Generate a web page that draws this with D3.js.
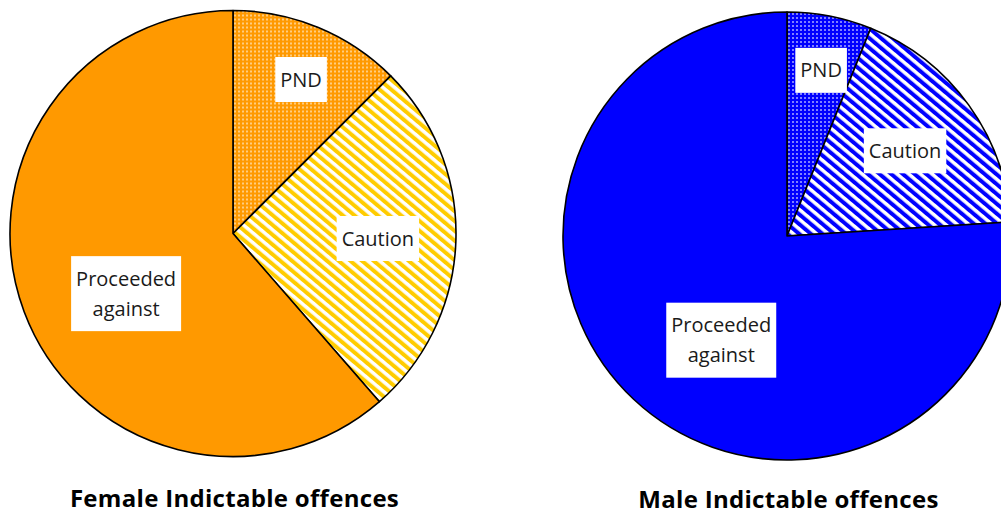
<!DOCTYPE html>
<html>
<head>
<meta charset="utf-8">
<script src="https://cdn.jsdelivr.net/npm/d3@7"></script>
<style>
  body { margin: 0; background: #fff; }
  svg { display: block; }
  .lbl { font-family: "Open Sans", sans-serif; font-size: 20px; fill: #1a1a1a; }
  .title { font-family: "Open Sans", sans-serif; font-size: 24px; font-weight: bold; letter-spacing: 0.3px; fill: #000; }
</style>
</head>
<body>
<svg id="chart" width="1001" height="515"></svg>
<script>
// data
const categories = ["PND", "Caution", "Proceeded against"];
const femaleValues = [12.5, 26.1, 61.4];
const maleValues = [6.1, 17.9, 76.0];
const titles = ["Female Indictable offences", "Male Indictable offences"];

const width = 1001;
const height = 515;
const svg = d3.select("#chart");

const charts = [
  { key: "f", values: femaleValues, title: titles[0], cx: 233, cy: 233.5, r: 223, solid: "#FF9900", stripe: "#FFCC00", titleY: 507 },
  { key: "m", values: maleValues, title: titles[1], cx: 787, cy: 236, r: 224, solid: "#0000FF", stripe: "#0000FF", titleY: 508 }
];

// where each label sits inside its slice: fraction of the angle, fraction of radius
const labelSpot = {
  "PND": [0.53, 0.755],
  "Caution": [0.5, 0.65],
  "Proceeded against": [0.46, 0.55]
};

const defs = svg.append("defs");

charts.forEach(c => {
  // dotted pattern for PND
  const dots = defs.append("pattern")
    .attr("id", "dots-" + c.key)
    .attr("patternUnits", "userSpaceOnUse")
    .attr("width", 4)
    .attr("height", 4);
  dots.append("rect").attr("width", 4).attr("height", 4).attr("fill", c.solid);
  dots.append("rect").attr("x", 1).attr("y", 1).attr("width", 2).attr("height", 2)
    .attr("fill", "#fff").attr("opacity", 0.5);

  // diagonal stripes for Caution
  const stripes = defs.append("pattern")
    .attr("id", "stripes-" + c.key)
    .attr("patternUnits", "userSpaceOnUse")
    .attr("width", 7.5)
    .attr("height", 7.5)
    .attr("patternTransform", "rotate(-50)");
  stripes.append("rect").attr("width", 7.5).attr("height", 7.5).attr("fill", "#fff");
  stripes.append("rect").attr("width", 4).attr("height", 7.5).attr("fill", c.stripe);
});

const pie = d3.pie().sort(null).value(d => d.value);

charts.forEach(c => {
  const data = categories.map((cat, i) => ({ cat: cat, value: c.values[i] }));
  const arcs = pie(data);

  const fillFor = cat => {
    if (cat === "PND") return `url(#dots-${c.key})`;
    if (cat === "Caution") return `url(#stripes-${c.key})`;
    return c.solid;
  };

  const arc = d3.arc().innerRadius(0).outerRadius(c.r);

  const g = svg.append("g")
    .attr("transform", `translate(${c.cx}, ${c.cy})`);

  g.selectAll("path")
    .data(arcs)
    .enter()
    .append("path")
    .attr("d", arc)
    .attr("fill", d => fillFor(d.data.cat))
    .attr("stroke", "#000")
    .attr("stroke-width", 1.6)
    .attr("stroke-linejoin", "round");

  // labels in white boxes
  const labels = g.selectAll(".label")
    .data(arcs)
    .enter()
    .append("g")
    .attr("class", "label")
    .attr("transform", d => {
      const spot = labelSpot[d.data.cat];
      const a = d.startAngle + (d.endAngle - d.startAngle) * spot[0];
      const rr = c.r * spot[1];
      return `translate(${rr * Math.sin(a)}, ${-rr * Math.cos(a)})`;
    });

  labels.each(function(d) {
    const lg = d3.select(this);
    const box = lg.append("rect").attr("fill", "#fff");
    const words = d.data.cat.split(" ");
    const t = lg.append("text")
      .attr("class", "lbl")
      .attr("text-anchor", "middle");
    words.forEach((w, i) => {
      t.append("tspan")
        .attr("x", 0)
        .attr("y", 7 + (i - (words.length - 1) / 2) * 30)
        .text(w);
    });
    const bb = t.node().getBBox();
    const padX = 5;
    const h = words.length * 30 + 15;
    box.attr("x", bb.x - padX)
      .attr("y", -h / 2)
      .attr("width", bb.width + padX * 2)
      .attr("height", h);
  });

  svg.append("text")
    .attr("class", "title")
    .attr("x", c.cx + 1.5)
    .attr("y", c.titleY)
    .attr("text-anchor", "middle")
    .text(c.title);
});
</script>
</body>
</html>
